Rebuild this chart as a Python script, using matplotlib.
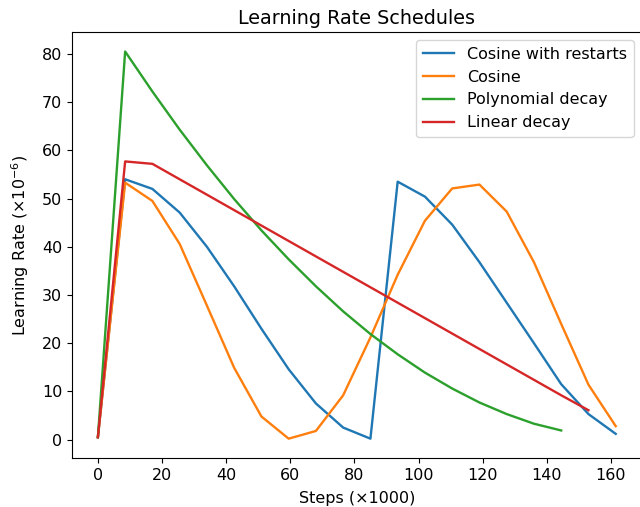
import numpy as np
import matplotlib.pyplot as plt

steps = [0, 8.5, 17, 25.5, 34, 42.5, 51, 59.5, 68, 76.5, 85, 93.5,
         102, 110.5, 119, 127.5, 136, 144.5, 153, 161.5]

cosine_restarts = [0.5, 54.0, 52.0, 47.1, 40.0, 31.8, 23.0, 14.6, 7.5, 2.5,
                   0.2, 53.5, 50.4, 44.6, 36.8, 28.4, 20.0, 11.5, 5.3, 1.2]
cosine = [0.5, 53.3, 49.5, 40.6, 27.8, 14.9, 4.8, 0.2, 1.8, 9.2,
          21.2, 34.2, 45.4, 52.1, 52.9, 47.3, 36.8, 24.0, 11.4, 2.8]
polynomial = [0.5, 80.5, 72.2, 64.3, 56.9, 49.9, 43.4, 37.4, 31.8, 26.6,
              21.9, 17.7, 13.9, 10.6, 7.7, 5.3, 3.3, 1.9]
linear = [0.5, 57.7, 57.2, 54.0, 50.8, 47.6, 44.4, 41.2, 38.0, 34.8,
          31.6, 28.4, 25.2, 22.0, 18.8, 15.6, 12.4, 9.2, 6.1]

plt.rcParams['font.size'] = 11.5
plt.rcParams['lines.linewidth'] = 1.7

fig = plt.figure(figsize=(6.4, 5.07), dpi=100)
ax = fig.add_axes([0.1125, 0.0966, 0.890, 0.840])

ax.plot(steps, cosine_restarts, label='Cosine with restarts')
ax.plot(steps, cosine, label='Cosine')
ax.plot(steps[:len(polynomial)], polynomial, label='Polynomial decay')
ax.plot(steps[:len(linear)], linear, label='Linear decay')

ax.set_title('Learning Rate Schedules')
ax.set_xlabel('Steps (×1000)', labelpad=6)
ax.set_ylabel(r'Learning Rate ($\times 10^{-6}$)', labelpad=8)
ax.set_xticks(np.arange(0, 161, 20))
ax.legend(loc='upper right')

fig.savefig('out.png', dpi=100, facecolor='white')
